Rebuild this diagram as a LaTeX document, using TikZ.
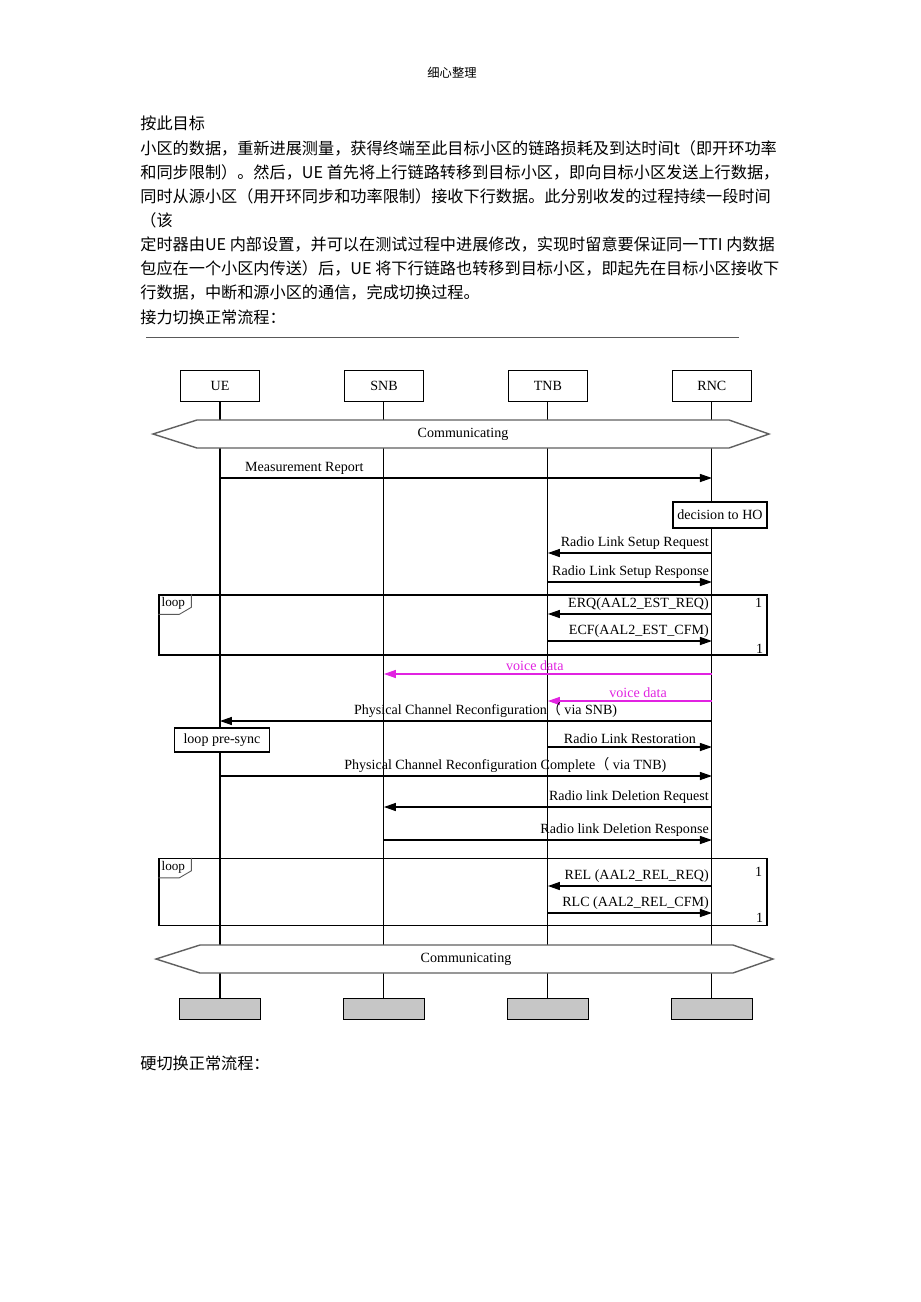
\documentclass[tikz,border=0pt]{standalone}
\usepackage{fontspec}
\setmainfont{Liberation Serif}
\newfontfamily\cjk{Noto Sans CJK SC}
\usetikzlibrary{positioning,arrows.meta}
\definecolor{voicecol}{RGB}{225,35,225}

\begin{document}
\begin{tikzpicture}[x=0.02cm,y=-0.02cm,on grid,node distance=3.28cm,
  every node/.style={font=\fontsize{8}{9.6}\selectfont},
  actor/.style={draw,line width=0.7pt,minimum width=1.58cm,minimum height=0.62cm,inner sep=0},
  endbox/.style={draw,line width=0.7pt,fill=gray!45,minimum width=1.62cm,minimum height=0.42cm,inner sep=0},
  life/.style={line width=0.6pt},
  band/.style={draw=gray!75!black,fill=white,line width=0.8pt},
  msg/.style={line width=0.6pt,-{Triangle[length=6.8pt,width=4.6pt]}},
  voice/.style={msg,voicecol},
  lbl/.style={inner sep=1.5pt},
  note/.style={draw,fill=white,line width=0.7pt,inner sep=0},
  loopbox/.style={draw,line width=0.8pt,inner sep=0,minimum width=12.16cm},
  txt/.style={anchor=west,inner sep=0,font=\cjk\fontsize{9.2}{11}\selectfont}]
   \fill[white] (0,0) rectangle (920,1302);
   \useasboundingbox (0,0) rectangle (920,1302);

   \node[font=\cjk\fontsize{7}{8}\selectfont] (head) at (452,73) {细心整理};
   \node[txt] (p1) at (140,123) {按此目标};
   \node[txt] (p2) at (140,148) {小区的数据，重新进展测量，获得终端至此目标小区的链路损耗及到达时间t（即开环功率};
   \node[txt] (p3) at (140,172) {和同步限制）。然后，UE 首先将上行链路转移到目标小区，即向目标小区发送上行数据，};
   \node[txt] (p4) at (140,196) {同时从源小区（用开环同步和功率限制）接收下行数据。此分别收发的过程持续一段时间};
   \node[txt] (p5) at (140,220) {（该};
   \node[txt] (p6) at (140,244) {定时器由UE 内部设置，并可以在测试过程中进展修改，实现时留意要保证同一TTI 内数据};
   \node[txt] (p7) at (140,268) {包应在一个小区内传送）后，UE 将下行链路也转移到目标小区，即起先在目标小区接收下};
   \node[txt] (p8) at (140,292) {行数据，中断和源小区的通信，完成切换过程。};
   \node[txt] (p9) at (140,317) {接力切换正常流程：};
   \draw[gray!70!black,line width=0.5pt] (146,337) -- (739,337);

   \node[actor] (ue) at (220,386) {UE};
   \node[actor] (snb) [right=of ue] {SNB};
   \node[actor] (tnb) [right=of snb] {TNB};
   \node[actor] (rnc) [right=of tnb] {RNC};
   \node[endbox] (ue-end) at (220,1009) {};
   \node[endbox] (snb-end) [right=of ue-end] {};
   \node[endbox] (tnb-end) [right=of snb-end] {};
   \node[endbox] (rnc-end) [right=of tnb-end] {};
   \foreach \n in {ue,snb,tnb,rnc}
      \draw[life] (\n) -- (\n-end);

   \draw[band] (153,434) -- (197,420) -- (729,420) -- (769,434) -- (729,448) -- (197,448) -- cycle;
   \node (comm-a) at (463,434) {Communicating};

   \draw[msg] (ue |- 0,478) -- (rnc |- 0,478)
      node[lbl,at start,anchor=south west,xshift=0.44cm] {Measurement Report};
   \node[note,minimum width=1.88cm,minimum height=0.52cm] (dec) at (720,515) {decision to HO};
   \draw[msg] (rnc |- 0,553) -- (tnb |- 0,553) node[lbl,at start,anchor=south east] {Radio Link Setup Request};
   \draw[msg] (tnb |- 0,582) -- (rnc |- 0,582) node[lbl,at end,anchor=south east] {Radio Link Setup Response};

   \node[loopbox,minimum height=1.2cm] (loop-a) at (463,625) {};
   \draw[line width=0.5pt,gray!70!black] (loop-a.north west) ++(0,20) -- ++(21,0) -- ++(12,-7) -- ++(0,-13);
   \node[font=\fontsize{7.5}{9}\selectfont] (loop-a-tag) at ([shift={(15,9)}]loop-a.north west) {loop};
   \node (loop-a-top) at ([shift={(-9,9)}]loop-a.north east) {1};
   \node (loop-a-bot) at ([shift={(-8,-7)}]loop-a.south east) {1};
   \draw[msg] (rnc |- 0,614) -- (tnb |- 0,614) node[lbl,at start,anchor=south east] {ERQ(AAL2\_EST\_REQ)};
   \draw[msg] (tnb |- 0,641) -- (rnc |- 0,641) node[lbl,at end,anchor=south east] {ECF(AAL2\_EST\_CFM)};

   \draw[voice] (rnc |- 0,674) -- (snb |- 0,674) node[lbl,pos=0.54,above] {voice data};
   \draw[voice] (rnc |- 0,701) -- (tnb |- 0,701) node[lbl,pos=0.45,above] {voice data};
   \draw[msg] (rnc |- 0,721) -- (ue |- 0,721)
      node[lbl,pos=0.46,above] {Physical Channel Reconfiguration{\cjk （} via SNB)};
   \node[note,minimum width=1.9cm,minimum height=0.48cm] (presync) at (222,740) {loop pre-sync};
   \draw[msg] (tnb |- 0,747) -- (rnc |- 0,747) node[lbl,midway,above] {Radio Link Restoration};
   \draw[msg] (ue |- 0,776) -- (rnc |- 0,776)
      node[lbl,pos=0.58,above] {Physical Channel Reconfiguration Complete{\cjk （} via TNB)};
   \draw[msg] (rnc |- 0,807) -- (snb |- 0,807) node[lbl,at start,anchor=south east] {Radio link Deletion Request};
   \draw[msg] (snb |- 0,840) -- (rnc |- 0,840) node[lbl,at end,anchor=south east] {Radio link Deletion Response};

   \node[loopbox,minimum height=1.34cm] (loop-b) at (463,892) {};
   \draw[line width=0.5pt,gray!70!black] (loop-b.north west) ++(0,20) -- ++(21,0) -- ++(12,-7) -- ++(0,-13);
   \node[font=\fontsize{7.5}{9}\selectfont] (loop-b-tag) at ([shift={(15,10)}]loop-b.north west) {loop};
   \node (loop-b-top) at ([shift={(-9,14)}]loop-b.north east) {1};
   \node (loop-b-bot) at ([shift={(-8,-8)}]loop-b.south east) {1};
   \draw[msg] (rnc |- 0,886) -- (tnb |- 0,886) node[lbl,at start,anchor=south east] {REL (AAL2\_REL\_REQ)};
   \draw[msg] (tnb |- 0,913) -- (rnc |- 0,913) node[lbl,at end,anchor=south east] {RLC (AAL2\_REL\_CFM)};

   \draw[band] (156,959) -- (200,945) -- (733,945) -- (773,959) -- (733,973) -- (200,973) -- cycle;
   \node (comm-b) at (466,959) {Communicating};

   \node[txt] (p10) at (140,1063) {硬切换正常流程：};
\end{tikzpicture}
\end{document}
